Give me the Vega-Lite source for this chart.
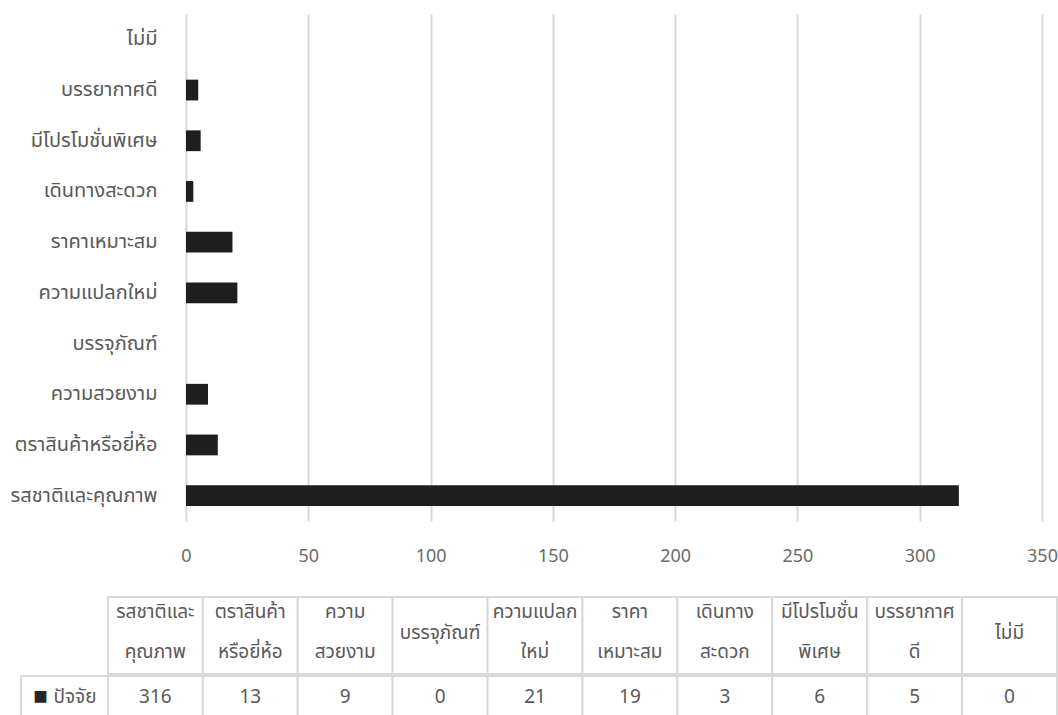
{
  "$schema": "https://vega.github.io/schema/vega-lite/v6.json",
  "background": "white",
  "padding": {"left": 10, "top": 14, "right": 0, "bottom": 0},
  "config": {
    "font": "Tahoma, 'Noto Sans Thai', 'Leelawadee UI', 'Noto Sans', sans-serif",
    "view": {"stroke": null}
  },
  "datasets": {
    "factors": [
      {"factor": "รสชาติและคุณภาพ", "line1": "รสชาติและ", "line2": "คุณภาพ", "single": "", "count": 316},
      {"factor": "ตราสินค้าหรือยี่ห้อ", "line1": "ตราสินค้า", "line2": "หรือยี่ห้อ", "single": "", "count": 13},
      {"factor": "ความสวยงาม", "line1": "ความ", "line2": "สวยงาม", "single": "", "count": 9},
      {"factor": "บรรจุภัณฑ์", "line1": "", "line2": "", "single": "บรรจุภัณฑ์", "count": 0},
      {"factor": "ความแปลกใหม่", "line1": "ความแปลก", "line2": "ใหม่", "single": "", "count": 21},
      {"factor": "ราคาเหมาะสม", "line1": "ราคา", "line2": "เหมาะสม", "single": "", "count": 19},
      {"factor": "เดินทางสะดวก", "line1": "เดินทาง", "line2": "สะดวก", "single": "", "count": 3},
      {"factor": "มีโปรโมชั่นพิเศษ", "line1": "มีโปรโมชั่น", "line2": "พิเศษ", "single": "", "count": 6},
      {"factor": "บรรยากาศดี", "line1": "บรรยากาศ", "line2": "ดี", "single": "", "count": 5},
      {"factor": "ไม่มี", "line1": "", "line2": "", "single": "ไม่มี", "count": 0}
    ],
    "legend": [{"factor": "ปัจจัย"}]
  },
  "resolve": {"scale": {"x": "independent", "y": "independent"}},
  "spacing": 31,
  "vconcat": [
    {
      "width": 856,
      "height": 507,
      "data": {"name": "factors"},
      "mark": {"type": "bar", "color": "#1e1e1e"},
      "encoding": {
        "y": {
          "field": "factor",
          "type": "nominal",
          "sort": ["ไม่มี", "บรรยากาศดี", "มีโปรโมชั่นพิเศษ", "เดินทางสะดวก", "ราคาเหมาะสม", "ความแปลกใหม่", "บรรจุภัณฑ์", "ความสวยงาม", "ตราสินค้าหรือยี่ห้อ", "รสชาติและคุณภาพ"],
          "scale": {"paddingInner": 0.59, "paddingOuter": 0.295},
          "axis": {"title": null, "ticks": false, "domain": false, "labelPadding": 29, "labelFontSize": 20, "labelColor": "#595959", "minExtent": 173, "maxExtent": 173, "labelLimit": 0}
        },
        "x": {
          "field": "count",
          "type": "quantitative",
          "scale": {"domain": [0, 350], "nice": false},
          "axis": {"title": null, "values": [0, 50, 100, 150, 200, 250, 300, 350], "ticks": false, "domain": false, "grid": true, "gridColor": "#d9d9d9", "gridWidth": 2, "labelPadding": 26, "labelFontSize": 18, "labelColor": "#6b6b6b", "labelFlush": false}
        }
      }
    },
    {
      "spacing": 0,
      "resolve": {"scale": {"x": "independent"}},
      "vconcat": [
        {
          "width": 871,
          "height": 77,
          "data": {"name": "factors"},
          "encoding": {
            "x": {
              "field": "factor",
              "type": "nominal",
              "scale": {"domain": ["ปัจจัย", "รสชาติและคุณภาพ", "ตราสินค้าหรือยี่ห้อ", "ความสวยงาม", "บรรจุภัณฑ์", "ความแปลกใหม่", "ราคาเหมาะสม", "เดินทางสะดวก", "มีโปรโมชั่นพิเศษ", "บรรยากาศดี", "ไม่มี"], "range": [-173, 871], "paddingInner": 0, "paddingOuter": 0},
              "axis": null
            }
          },
          "layer": [
            {"mark": {"type": "rect", "fill": "white", "stroke": "#d9d9d9", "strokeWidth": 2, "clip": false}},
            {"mark": {"type": "text", "fontSize": 19, "color": "#595959", "dy": -24}, "encoding": {"text": {"field": "line1"}}},
            {"mark": {"type": "text", "fontSize": 19, "color": "#595959", "dy": 16}, "encoding": {"text": {"field": "line2"}}},
            {"mark": {"type": "text", "fontSize": 19, "color": "#595959", "dy": -3}, "encoding": {"text": {"field": "single"}}}
          ]
        },
        {
          "width": 871,
          "height": 41,
          "encoding": {
            "x": {
              "field": "factor",
              "type": "nominal",
              "scale": {"domain": ["ปัจจัย", "รสชาติและคุณภาพ", "ตราสินค้าหรือยี่ห้อ", "ความสวยงาม", "บรรจุภัณฑ์", "ความแปลกใหม่", "ราคาเหมาะสม", "เดินทางสะดวก", "มีโปรโมชั่นพิเศษ", "บรรยากาศดี", "ไม่มี"], "range": [-173, 871], "paddingInner": 0, "paddingOuter": 0},
              "axis": null
            }
          },
          "layer": [
            {"data": {"name": "factors"}, "mark": {"type": "rect", "fill": "white", "stroke": "#d9d9d9", "strokeWidth": 2}},
            {"data": {"name": "legend"}, "mark": {"type": "rect", "fill": "white", "stroke": "#d9d9d9", "strokeWidth": 2, "width": {"band": 0.916}, "xOffset": 4}},
            {"data": {"name": "factors"}, "mark": {"type": "text", "fontSize": 19, "color": "#595959"}, "encoding": {"text": {"field": "count", "type": "quantitative"}}},
            {"data": {"name": "legend"}, "mark": {"type": "text", "text": "■", "fontSize": 24, "color": "#262626", "dx": -20}},
            {"data": {"name": "legend"}, "mark": {"type": "text", "align": "left", "dx": -7, "fontSize": 19, "color": "#595959"}, "encoding": {"text": {"field": "factor"}}}
          ]
        }
      ]
    }
  ]
}
